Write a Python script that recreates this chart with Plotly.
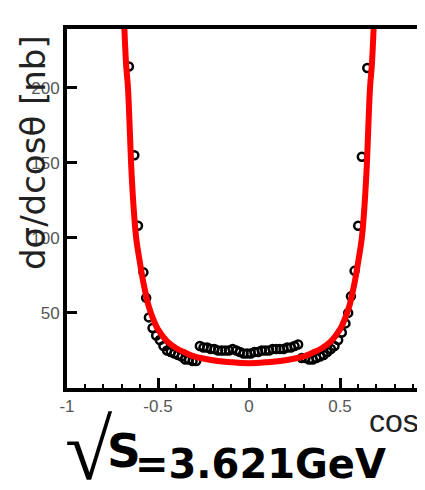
import plotly.graph_objects as go

# measured data points (cos theta, dsigma/dcos theta in nb)
data_x = [-0.66, -0.63, -0.61, -0.58, -0.565, -0.55, -0.53, -0.51, -0.49, -0.47,
          -0.45, -0.43, -0.41, -0.39, -0.37, -0.35, -0.33, -0.31, -0.29,
          -0.27, -0.25, -0.23, -0.21, -0.19, -0.17, -0.15, -0.13, -0.11, -0.09,
          -0.07, -0.05, -0.03, -0.01, 0.01, 0.03, 0.05, 0.07, 0.09, 0.11, 0.13,
          0.15, 0.17, 0.19, 0.21, 0.23, 0.25, 0.27,
          0.29, 0.31, 0.33, 0.35, 0.37, 0.39, 0.41, 0.43, 0.45, 0.47, 0.49,
          0.51, 0.53, 0.545, 0.56, 0.58, 0.60, 0.62, 0.65]
data_y = [214, 155, 108, 77, 60, 47, 40, 35, 32, 28,
          25, 24, 23, 22, 21, 19, 19, 18, 18,
          28, 27, 27, 26, 26, 25, 25, 25, 25, 26,
          25, 24, 23, 23, 23, 24, 24, 25, 25, 25, 26,
          26, 26, 26, 27, 27, 28, 29,
          20, 20, 19, 19, 20, 21, 22, 24, 26, 28, 32,
          37, 43, 50, 61, 78, 108, 154, 213]

# fitted curve
fit_x = [-0.70, -0.685, -0.675, -0.665, -0.655, -0.648, -0.635, -0.62, -0.60, -0.58,
         -0.55, -0.52, -0.50, -0.45, -0.40, -0.35, -0.30, -0.20, -0.10, 0.0,
         0.10, 0.20, 0.30, 0.35, 0.40, 0.45, 0.50, 0.52, 0.55, 0.58,
         0.60, 0.62, 0.635, 0.648, 0.655, 0.665, 0.675, 0.685, 0.70]
fit_y = [290, 240, 215, 200, 172, 150, 122, 100, 84, 70,
         54, 44, 39, 31, 26.5, 23.5, 21, 18.5, 17.2, 16.5,
         17.2, 18.5, 21, 23.5, 26.5, 31, 39, 44, 54, 70,
         84, 100, 122, 150, 172, 200, 215, 240, 290]

x_ticks = [-1, -0.5, 0, 0.5]
x_tick_labels = ["-1", "-0.5", "0", "0.5"]
y_ticks = [50, 100, 150, 200]
y_tick_labels = ["50", "100", "150", "200"]

# page offset of the figure (default body margin)
OFF = 8
W, H = 425 - OFF, 490 - 2 * OFF
# plot area in page pixels
L, R, T, B = 67, 425, 29, 388


def px(x):
    return (x - L) / (R - L)


def py(y):
    return (B - y) / (B - T)


fig = go.Figure()
fig.add_trace(go.Scatter(
    x=data_x, y=data_y, mode="markers",
    marker=dict(symbol="circle-open", size=8, color="black", line=dict(width=2.5, color="black")),
    showlegend=False))
fig.add_trace(go.Scatter(
    x=fit_x, y=fit_y, mode="lines",
    line=dict(color="#ff0000", width=6, shape="spline"),
    showlegend=False))

tick_font = dict(family="Liberation Sans Narrow, Liberation Sans, Arial", size=17, color="#555")

fig.update_layout(
    width=W, height=H,
    margin=dict(l=L - OFF, r=0, t=T - OFF, b=H - (B - OFF)),
    paper_bgcolor="white", plot_bgcolor="white",
    xaxis=dict(range=[-1, -1 + (R - L) / 182.0], showgrid=False, zeroline=False,
               showline=True, linecolor="black", linewidth=4, mirror=True,
               tickvals=x_ticks, ticktext=x_tick_labels, ticks="inside",
               ticklen=10, tickwidth=3, tickcolor="black", tickfont=tick_font,
               minor=dict(dtick=0.1, ticks="inside", ticklen=4, tickwidth=2, tickcolor="black")),
    yaxis=dict(range=[0, 239], showgrid=False, zeroline=False,
               showline=True, linecolor="black", linewidth=4,
               tickvals=y_ticks, ticktext=y_tick_labels, ticks="inside",
               ticklen=10, tickwidth=3, tickcolor="black", tickfont=tick_font),
    annotations=[
        dict(text="dσ/dcosθ [nb]", textangle=-90, xref="paper", yref="paper",
             x=px(33), y=py(153), xanchor="center", yanchor="middle", showarrow=False,
             font=dict(family="DejaVu Sans", size=34, color="#222")),
        dict(text="cosθ", xref="paper", yref="paper", x=px(367), y=py(421),
             xanchor="left", yanchor="middle", showarrow=False,
             font=dict(family="Liberation Sans Narrow, Liberation Sans, Arial", size=32, color="#222")),
        dict(text="√", xref="paper", yref="paper", x=px(63), y=py(450),
             xanchor="left", yanchor="middle", showarrow=False,
             font=dict(family="Liberation Serif", size=86, color="black")),
        dict(text="<b>S</b>", xref="paper", yref="paper", x=px(105), y=py(450),
             xanchor="left", yanchor="middle", showarrow=False,
             font=dict(family="DejaVu Sans", size=47, color="black")),
        dict(text="<b>=3.621GeV</b>", xref="paper", yref="paper", x=px(133), y=py(464),
             xanchor="left", yanchor="middle", showarrow=False,
             font=dict(family="DejaVu Sans", size=40, color="black")),
    ],
)

fig.write_html("out.html")
